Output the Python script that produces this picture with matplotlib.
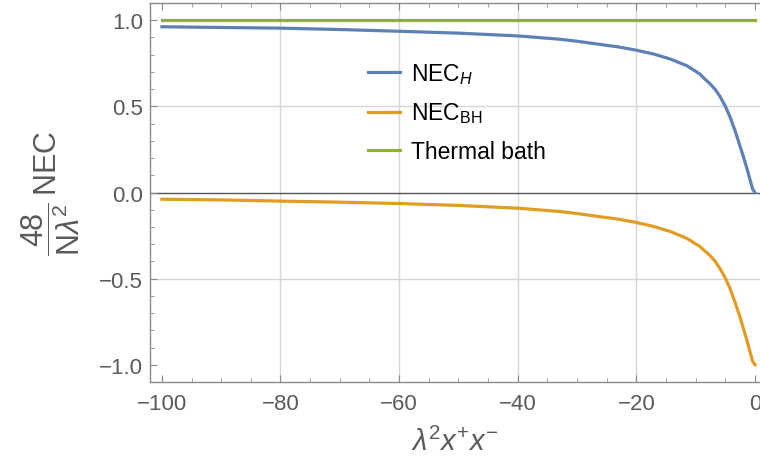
"""NEC of the Hawking flux vs. black hole, Mathematica-style frame."""
import numpy as np
import matplotlib
matplotlib.use("Agg")
import matplotlib.pyplot as plt
from matplotlib.ticker import MultipleLocator, FuncFormatter

# values
X = [-100, -90, -80, -70, -60, -50, -40, -33, -30, -26, -23, -20, -17.1,
     -14.3, -11.5, -9.3, -8.5, -7.6, -6.7, -5.9, -5.06, -4.22, -3.37, -2.53,
     -1.97, -1.4, -0.84, -0.39, 0]
NEC_H = [0.962, 0.958, 0.954, 0.946, 0.936, 0.925, 0.909, 0.89, 0.878, 0.859,
         0.845, 0.826, 0.804, 0.775, 0.736, 0.688, 0.66, 0.632, 0.598, 0.558,
         0.505, 0.44, 0.36, 0.27, 0.21, 0.145, 0.075, 0.02, 0.0]
NEC_BH = [-0.039, -0.043, -0.05, -0.056, -0.064, -0.075, -0.091, -0.11, -0.122,
          -0.141, -0.155, -0.174, -0.197, -0.226, -0.266, -0.313, -0.338,
          -0.365, -0.40, -0.442, -0.492, -0.556, -0.636, -0.722, -0.787,
          -0.853, -0.925, -0.98, -1.0]
THERMAL = [1.0] * len(X)
GRID_X = [-80, -60, -40, -20]
GRID_Y = [-0.5, 0.5]

C_BLUE = "#5e81b5"
C_ORANGE = "#e19c24"
C_GREEN = "#8fb032"
C_TEXT = "#5a5a5a"
C_FRAME = "#8a8a8a"

plt.rcParams.update({
    "font.family": ["Liberation Sans", "DejaVu Sans"],
    "mathtext.fontset": "custom",
    "mathtext.rm": "Liberation Sans",
    "mathtext.it": "Liberation Sans:italic",
    "mathtext.bf": "Liberation Sans:bold",
})

fig = plt.figure(figsize=(7.6, 4.64), dpi=100)
ax = fig.add_axes([150 / 760, 1 - 383 / 464, 1 - 150 / 760, 379 / 464])

for gx in GRID_X:
    ax.axvline(gx, color="#d6d6d6", lw=1.0, zorder=0)
for gy in GRID_Y:
    ax.axhline(gy, color="#d6d6d6", lw=1.0, zorder=0)
ax.axhline(0, color="#555555", lw=1.0, zorder=1)

ax.plot(X, NEC_H, color=C_BLUE, lw=2.3, label=r"NEC$_H$", zorder=3,
        solid_joinstyle="round")
ax.plot(X, NEC_BH, color=C_ORANGE, lw=2.3, label=r"NEC$_{\mathrm{BH}}$",
        zorder=3, solid_joinstyle="round")
ax.plot(X, THERMAL, color=C_GREEN, lw=2.3, label="Thermal bath", zorder=3)

ax.set_xlim(-102, 0.85)
ax.set_ylim(-1.1, 1.1)
ax.set_xticks(range(-100, 1, 20))
ax.set_yticks([-1.0, -0.5, 0.0, 0.5, 1.0])
ax.xaxis.set_minor_locator(MultipleLocator(5))
ax.yaxis.set_minor_locator(MultipleLocator(0.1))
fmt = lambda v, d: f"{v:.{d}f}".replace("-", "\u2212")
ax.xaxis.set_major_formatter(FuncFormatter(lambda v, p: fmt(v, 0)))
ax.yaxis.set_major_formatter(FuncFormatter(lambda v, p: fmt(v, 1)))

ax.spines["right"].set_visible(False)
for s in ("left", "bottom", "top"):
    ax.spines[s].set_color(C_FRAME)
    ax.spines[s].set_linewidth(1.0)
ax.tick_params(which="both", direction="in", top=True, color=C_FRAME,
               labelcolor=C_TEXT, labelsize=16)
ax.tick_params(which="major", length=5, width=0.8)
ax.tick_params(which="minor", length=3, width=0.6)
ax.tick_params(axis="x", pad=8)
ax.tick_params(axis="y", pad=5)

ax.set_xlabel(r"$\lambda^2 x^{+} x^{-}$", fontsize=21, color=C_TEXT,
              labelpad=9)
ax.set_ylabel(r"$\dfrac{48}{\mathrm{N}\lambda^2}\,\mathrm{NEC}$", fontsize=22,
              color=C_TEXT, labelpad=12)

ax.legend(loc="upper left", bbox_to_anchor=(0.343, 0.87), frameon=False,
          fontsize=16.5, handlelength=1.4, handletextpad=0.45,
          labelspacing=0.62, borderaxespad=0)

fig.savefig("out.png", dpi=100)
